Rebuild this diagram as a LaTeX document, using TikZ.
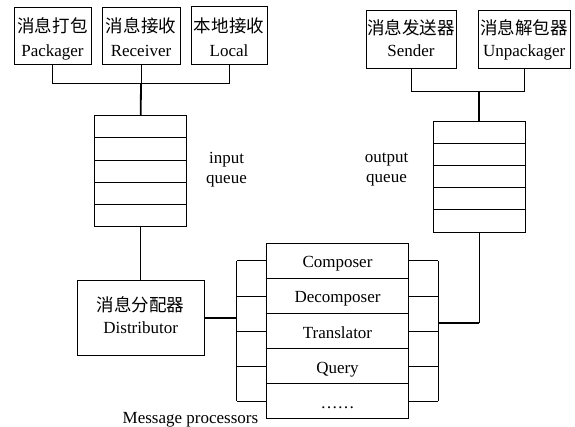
\documentclass[tikz,border=0pt]{standalone}
\usepackage{fontspec}
\setmainfont{Liberation Serif}
\newfontfamily\cjk[Scale=1.03]{Noto Sans CJK SC}
\usetikzlibrary{positioning}

\begin{document}
\begin{tikzpicture}[x=1pt,y=-1pt,node distance=0pt,
  box/.style={draw,line width=0.8pt,align=center,inner sep=0pt,text height=48pt,text depth=5pt,font=\fontsize{17}{24}\selectfont},
  cell/.style={draw,line width=0.8pt,minimum width=92pt,minimum height=22.2pt,inner sep=0pt,outer sep=0pt},
  proc/.style={draw,line width=0.8pt,minimum width=141.6pt,minimum height=35.1pt,inner sep=0pt,outer sep=0pt,text height=17pt,text depth=3pt,font=\fontsize{17}{20}\selectfont},
  link/.style={line width=0.8pt},
  trunk/.style={line width=1.8pt},
  lbl/.style={align=center,font=\fontsize{17}{20}\selectfont}]
  \useasboundingbox (0,0) rectangle (575,427);

  % modules on the input side
  \node[box,minimum width=77pt,minimum height=57pt] (pack) at (52.5,35.5) {{\cjk 消息打包}\\Packager};
  \node[box,minimum width=78pt,minimum height=57pt] (recv) at (141,35.5) {{\cjk 消息接收}\\Receiver};
  \node[box,minimum width=76pt,minimum height=58pt] (local) at (229,35.2) {{\cjk 本地接收}\\Local};

  % modules on the output side
  \node[box,minimum width=90pt,minimum height=58pt,text height=40.6pt,font=\fontsize{17}{22}\selectfont] (send) at (411,39.2) {{\cjk 消息发送器}\\Sender};
  \node[box,minimum width=92pt,minimum height=58pt,text height=40.6pt,font=\fontsize{17}{22}\selectfont] (unpack) at (524.2,39.2) {{\cjk 消息解包器}\\Unpackager};

  % the two queues, five slots each
  \node[cell] (qin1) at (140.7,126.8) {};
  \foreach \i [remember=\i as \j (initially 1)] in {2,...,5}
    \node[cell,below=of qin\j] (qin\i) {};
  \node[cell] (qout1) at (479,132.1) {};
  \foreach \i [remember=\i as \j (initially 1)] in {2,...,5}
    \node[cell,below=of qout\j] (qout\i) {};
  \node[lbl] (inq) at (226.5,170) {input\\queue};
  \node[lbl] (outq) at (386.5,170) {output\\queue};

  \node[box,minimum width=126.7pt,minimum height=75.7pt,text height=35.2pt,font=\fontsize{17}{21}\selectfont] (dist) at (140.7,317.9) {{\cjk 消息分配器}\\Distributor};

  % processor stack
  \node[proc] (proc1) at (337.5,260.85) {Composer};
  \node[proc,below=of proc1] (proc2) {Decomposer};
  \node[proc,below=of proc2] (proc3) {Translator};
  \node[proc,below=of proc3] (proc4) {Query};
  \node[proc,below=of proc4] (proc5) {……};
  \node[lbl,anchor=east] (mp) at ([xshift=-5pt,yshift=-1pt]proc5.south west) {Message processors};

  % input side wiring
  \draw[link] (pack.south) -- ++(0,19) -| (local.south);
  \draw[link] (recv.south) -- ++(0,19) coordinate (inbus);
  \draw[trunk] (inbus) -- (qin1.north);
  \draw[link] (qin5.south) -- (dist.north);

  % output side wiring
  \draw[link] (send.south) -- ++(0,22.4) -| (unpack.south);
  \coordinate (outbus) at (qout1.north |- 0,90.7);
  \draw[trunk] (outbus) -- (qout1.north);

  % brackets on both sides of the processors
  \foreach \i in {1,...,5} {
    \draw[link] (proc\i.west) -- ++(-30,0) coordinate (lb\i);
    \draw[link] (proc\i.east) -- ++(30,0) coordinate (rb\i);
  }
  \draw[link] (lb1) -- (lb5);
  \draw[link] (rb1) -- (rb5);
  \draw[trunk] (dist.east) -- (dist.east -| lb1);
  \coordinate (rj) at (rb1 |- 0,323);
  \draw[trunk] (rj) -- (rj -| qout5.south);
  \draw[link] (rj -| qout5.south) -- (qout5.south);
\end{tikzpicture}
\end{document}
